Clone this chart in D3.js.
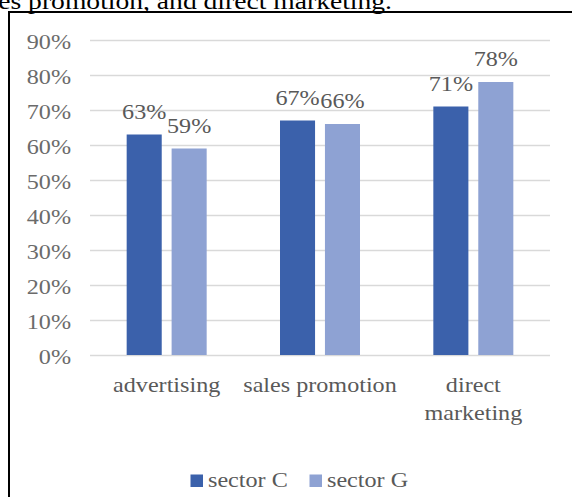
<!DOCTYPE html>
<html>
<head>
<meta charset="utf-8">
<script src="https://cdn.jsdelivr.net/npm/d3@7"></script>
<style>
  html, body { margin: 0; padding: 0; background: #fff; overflow: hidden; }
  svg { display: block; }
  text { font-family: "Liberation Serif", "Times New Roman", serif; }
</style>
</head>
<body>
<div id="chart"></div>
<script>
const categories = ["advertising", "sales promotion", "direct marketing"];
const categoryLines = [["advertising"], ["sales promotion"], ["direct", "marketing"]];
const series = ["sector C", "sector G"];
const sectorC = [0.63, 0.67, 0.71];
const sectorG = [0.59, 0.66, 0.78];
const yTicks = [0, 0.1, 0.2, 0.3, 0.4, 0.5, 0.6, 0.7, 0.8, 0.9];
const colors = ["#3b61ab", "#8ea2d3"];

window.addEventListener("DOMContentLoaded", () => {
  var width = 572,
    height = 497,
    // the picture is a bit wider than tall, text is stretched sideways
    stretch = 1.15,
    fs = "21px";

  var svg = d3.select("#chart")
    .append("svg")
    .attr("width", width)
    .attr("height", height);

  // bit of the sentence above the chart box (cut off like in the page it came from)
  svg.append("text")
    .attr("transform", "translate(392,8.5) scale(1.2,1)")
    .attr("text-anchor", "end")
    .style("font-size", "23px")
    .style("fill", "#000")
    .text("sales promotion, and direct marketing.");

  // chart box border (top and left visible)
  svg.append("path")
    .attr("d", "M9,497 V12 H572")
    .style("fill", "none")
    .style("stroke", "#000")
    .style("stroke-width", 2);

  var y = d3.scaleLinear()
    .domain([0, 0.9])
    .range([355, 40]);

  var x0 = d3.scaleBand()
    .domain(categories)
    .range([90, 550])
    .padding(0);

  var x1 = d3.scaleBand()
    .domain(series)
    .range([-40, 40])
    .paddingInner(0.22)
    .paddingOuter(0);

  // grid + tick labels
  var yAxis = svg.append("g")
    .attr("transform", "translate(90,0)")
    .call(d3.axisLeft(y).tickValues(yTicks).tickFormat(d3.format(".0%")).tickSize(-460));
  yAxis.select(".domain").remove();
  yAxis.selectAll("line")
    .style("stroke", "#d9d9d9")
    .style("stroke-width", 1.5);
  yAxis.selectAll("text")
    .attr("x", -19 / stretch)
    .attr("dy", "0.4em")
    .attr("transform", "scale(" + stretch + ",1)")
    .style("font-size", fs)
    .style("font-family", "'Liberation Serif', 'Times New Roman', serif")
    .style("fill", "#6b6b6b");

  var rows = categories.map((c, i) => ({ cat: c, vals: [sectorC[i], sectorG[i]] }));

  var groups = svg.selectAll(".grp")
    .data(rows)
    .enter()
    .append("g")
    .attr("class", "grp")
    .attr("transform", d => "translate(" + (x0(d.cat) + x0.bandwidth() / 2) + ",0)");

  groups.selectAll("rect")
    .data(d => d.vals.map((v, j) => ({ s: series[j], v: v, j: j })))
    .enter()
    .append("rect")
    .attr("x", d => x1(d.s))
    .attr("y", d => y(d.v))
    .attr("width", x1.bandwidth())
    .attr("height", d => y(0) - y(d.v))
    .style("fill", d => colors[d.j]);

  groups.selectAll(".val")
    .data(d => d.vals.map((v, j) => ({ s: series[j], v: v })))
    .enter()
    .append("text")
    .attr("class", "val")
    .attr("transform", d => "translate(" + (x1(d.s) + x1.bandwidth() / 2) + "," + (y(d.v) - 16) + ") scale(" + stretch + ",1)")
    .attr("text-anchor", "middle")
    .style("font-size", fs)
    .style("fill", "#595959")
    .text(d => d3.format(".0%")(d.v));

  // category labels
  groups.each(function(d, i) {
    var g = d3.select(this);
    categoryLines[i].forEach((line, k) => {
      g.append("text")
        .attr("transform", "translate(0," + (392 + k * 28.3) + ") scale(" + stretch + ",1)")
        .attr("text-anchor", "middle")
        .style("font-size", fs)
        .style("fill", "#595959")
        .text(line);
    });
  });

  // legend
  var legendX = [190.5, 309.5];
  var legend = svg.selectAll(".leg")
    .data(series)
    .enter()
    .append("g")
    .attr("class", "leg")
    .attr("transform", (d, i) => "translate(" + legendX[i] + ",0)");
  legend.append("rect")
    .attr("x", 0)
    .attr("y", 474.5)
    .attr("width", 12.5)
    .attr("height", 12.5)
    .style("fill", (d, i) => colors[i]);
  legend.append("text")
    .attr("transform", "translate(17.5,487) scale(" + stretch + ",1)")
    .style("font-size", fs)
    .style("fill", "#595959")
    .text(d => d);
});
</script>
</body>
</html>
